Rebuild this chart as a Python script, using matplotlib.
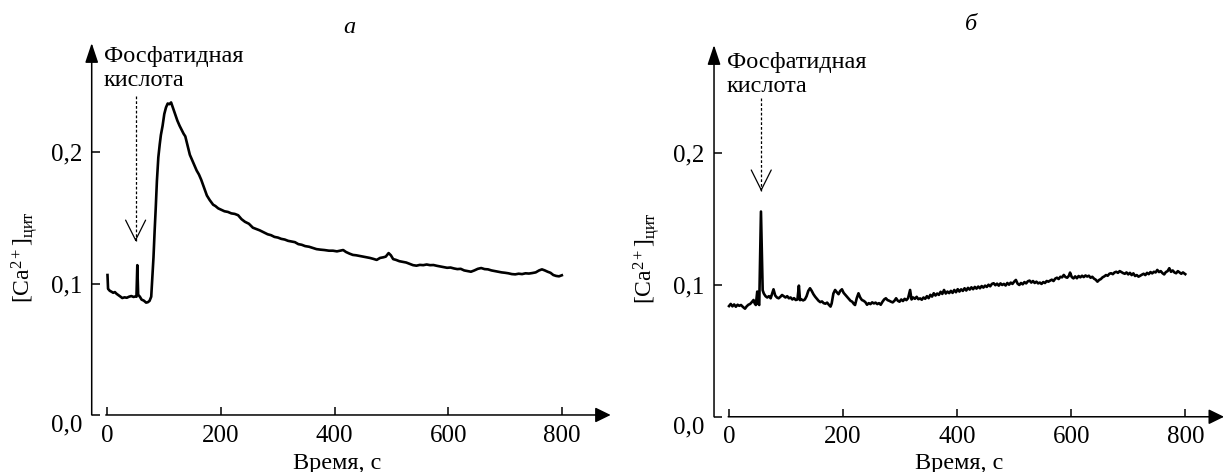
import matplotlib
matplotlib.use('Agg')
import matplotlib.pyplot as plt
import matplotlib.transforms as mtransforms

plt.rcParams['font.family'] = ['Liberation Serif', 'DejaVu Serif']
plt.rcParams['mathtext.fontset'] = 'custom'
plt.rcParams['mathtext.rm'] = 'Liberation Serif'
plt.rcParams['mathtext.it'] = 'Liberation Serif:italic'

# panel a: cytosolic Ca2+ after phosphatidic acid
time_a = [0, 1, 4, 7, 10, 13, 16, 20, 23, 26, 30, 34, 38, 42, 46, 49, 51, 52.5, 54, 57,
          60, 64, 68, 71, 74, 77, 79, 81, 83, 85, 87, 89.5, 92, 94, 97, 100, 103, 106, 109, 112,
          115, 119, 123, 127, 131, 134, 137, 141, 145, 149, 153, 157, 161, 165, 170, 175, 180, 186, 190, 195,
          201, 206, 212, 218, 224, 230, 236, 242, 249, 256, 262, 268, 275, 282, 288, 294, 300, 306, 312, 318,
          324, 330, 336, 342, 348, 355, 362, 368, 375, 382, 390, 397, 404, 410, 415, 420, 426, 432, 438, 444,
          450, 456, 462, 468, 474, 480, 486, 490, 495, 499, 503, 508, 514, 520, 526, 532, 538, 544, 550, 556,
          562, 568, 574, 580, 586, 592, 598, 604, 610, 616, 622, 628, 634, 640, 646, 652, 658, 664, 670, 676,
          682, 688, 694, 700, 706, 712, 718, 724, 730, 736, 742, 748, 754, 760, 765, 770, 775, 780, 785, 790,
          795, 800]
ca_a = [0.1065, 0.0960, 0.0945, 0.0938, 0.0930, 0.0935, 0.0922, 0.0910, 0.0900, 0.0890,
        0.0895, 0.0892, 0.0900, 0.0905, 0.0898, 0.0902, 0.0900, 0.1140, 0.0915, 0.0900,
        0.0878, 0.0870, 0.0855, 0.0858, 0.0868, 0.0900, 0.1050, 0.1200, 0.1400, 0.1580,
        0.1780, 0.1960, 0.2060, 0.2130, 0.2200, 0.2290, 0.2340, 0.2370, 0.2365, 0.2378,
        0.2340, 0.2290, 0.2240, 0.2200, 0.2165, 0.2140, 0.2120, 0.2050, 0.1980, 0.1940,
        0.1900, 0.1860, 0.1830, 0.1790, 0.1730, 0.1670, 0.1635, 0.1600, 0.1590, 0.1572,
        0.1560, 0.1550, 0.1545, 0.1534, 0.1530, 0.1520, 0.1490, 0.1470, 0.1455, 0.1425,
        0.1415, 0.1405, 0.1390, 0.1375, 0.1368, 0.1355, 0.1350, 0.1340, 0.1335, 0.1325,
        0.1320, 0.1315, 0.1300, 0.1295, 0.1285, 0.1280, 0.1270, 0.1262, 0.1258, 0.1255,
        0.1250, 0.1250, 0.1245, 0.1250, 0.1255, 0.1240, 0.1228, 0.1218, 0.1215, 0.1210,
        0.1205, 0.1200, 0.1195, 0.1188, 0.1180, 0.1195, 0.1200, 0.1205, 0.1232, 0.1215,
        0.1186, 0.1180, 0.1170, 0.1165, 0.1160, 0.1150, 0.1140, 0.1136, 0.1142, 0.1140,
        0.1145, 0.1140, 0.1141, 0.1135, 0.1130, 0.1125, 0.1120, 0.1122, 0.1115, 0.1110,
        0.1112, 0.1100, 0.1095, 0.1090, 0.1100, 0.1112, 0.1118, 0.1110, 0.1108, 0.1100,
        0.1095, 0.1090, 0.1085, 0.1082, 0.1078, 0.1072, 0.1070, 0.1075, 0.1072, 0.1078,
        0.1076, 0.1080, 0.1085, 0.1100, 0.1108, 0.1100, 0.1090, 0.1082, 0.1065, 0.1058,
        0.1055, 0.1063]

# panel b
time_b = [0, 3, 6, 9, 12, 15, 18, 21, 24, 28, 31, 34, 37, 40, 43, 45, 47, 49.5, 51, 53,
          56, 59, 61, 64, 67, 70, 73, 76, 78, 81, 84, 87, 90, 93, 96, 99, 102, 105, 108, 111,
          114, 117, 120, 122.5, 124.5, 127, 130, 133, 136, 139, 142, 145, 148, 151, 154, 157, 160, 163, 166, 169,
          172, 175, 178, 180, 183, 186, 189, 192, 195, 198, 201, 204, 207, 210, 213, 216, 219, 221, 224, 227,
          230, 233, 236, 239, 242, 245, 248, 251, 254, 257, 260, 263, 266, 269, 272, 275, 278, 281, 284, 287,
          290, 293, 296, 299, 302, 305, 308, 311, 314, 317.5, 320, 323, 326, 329, 332, 335, 338, 341, 344, 347,
          350, 353, 356, 359, 362, 365, 368, 371, 374, 377, 380, 383, 386, 389, 392, 395, 398, 401, 404, 407,
          410, 413, 416, 419, 422, 425, 428, 431, 434, 437, 440, 443, 446, 449, 452, 455, 458, 461, 464, 467,
          470, 473, 476, 479, 482, 485, 488, 491, 494, 497, 500, 503, 506, 509, 512, 515, 518, 521, 524, 527,
          530, 533, 536, 539, 542, 545, 548, 551, 554, 557, 560, 563, 566, 569, 572, 575, 578, 581, 584, 587,
          590, 593, 596, 598, 601, 604, 607, 610, 613, 616, 619, 622, 625, 628, 631, 634, 637, 640, 643, 646,
          649, 652, 655, 658, 661, 664, 667, 670, 673, 676, 679, 682, 685, 688, 691, 694, 697, 700, 703, 706,
          709, 712, 715, 718, 721, 724, 727, 730, 733, 736, 739, 742, 745, 748, 751, 754, 757, 760, 763, 766,
          769, 772, 775, 778, 781, 784, 787, 790, 793, 796, 800]
ca_b = [0.0840, 0.0856, 0.0838, 0.0852, 0.0835, 0.0850, 0.0842, 0.0848, 0.0835, 0.0820,
        0.0838, 0.0850, 0.0856, 0.0870, 0.0886, 0.0860, 0.0848, 0.0950, 0.0860, 0.0848,
        0.1557, 0.0960, 0.0935, 0.0915, 0.0905, 0.0915, 0.0899, 0.0940, 0.0967, 0.0920,
        0.0905, 0.0899, 0.0910, 0.0924, 0.0915, 0.0905, 0.0915, 0.0899, 0.0905, 0.0890,
        0.0900, 0.0886, 0.0890, 0.0995, 0.0885, 0.0890, 0.0883, 0.0890, 0.0915, 0.0955,
        0.0975, 0.0955, 0.0930, 0.0911, 0.0895, 0.0880, 0.0870, 0.0875, 0.0862, 0.0858,
        0.0866, 0.0850, 0.0836, 0.0860, 0.0935, 0.0962, 0.0945, 0.0930, 0.0955, 0.0967,
        0.0940, 0.0925, 0.0911, 0.0895, 0.0880, 0.0873, 0.0855, 0.0848, 0.0900, 0.0937,
        0.0905, 0.0886, 0.0880, 0.0870, 0.0850, 0.0862, 0.0855, 0.0868, 0.0860, 0.0866,
        0.0855, 0.0862, 0.0850, 0.0872, 0.0890, 0.0899, 0.0885, 0.0880, 0.0873, 0.0868,
        0.0880, 0.0899, 0.0880, 0.0873, 0.0890, 0.0878, 0.0895, 0.0885, 0.0900, 0.0962,
        0.0890, 0.0905, 0.0895, 0.0910, 0.0892, 0.0898, 0.0888, 0.0905, 0.0895, 0.0915,
        0.0900, 0.0925, 0.0912, 0.0937, 0.0920, 0.0935, 0.0925, 0.0948, 0.0932, 0.0962,
        0.0935, 0.0950, 0.0938, 0.0955, 0.0940, 0.0962, 0.0945, 0.0968, 0.0950, 0.0967,
        0.0955, 0.0975, 0.0958, 0.0978, 0.0965, 0.0982, 0.0968, 0.0985, 0.0972, 0.0988,
        0.0975, 0.0992, 0.0980, 0.0995, 0.0985, 0.1002, 0.0990, 0.1008, 0.1013, 0.0998,
        0.1010, 0.0995, 0.1012, 0.1000, 0.1008, 0.0996, 0.1015, 0.1002, 0.1018, 0.1008,
        0.1025, 0.1038, 0.1010, 0.1000, 0.1015, 0.1005, 0.1022, 0.1012, 0.1028, 0.1033,
        0.1018, 0.1030, 0.1015, 0.1025, 0.1012, 0.1018, 0.1008, 0.1022, 0.1015, 0.1030,
        0.1025, 0.1033, 0.1040, 0.1030, 0.1048, 0.1055, 0.1045, 0.1062, 0.1058, 0.1076,
        0.1060, 0.1055, 0.1070, 0.1094, 0.1060, 0.1050, 0.1065, 0.1051, 0.1068, 0.1058,
        0.1070, 0.1060, 0.1072, 0.1064, 0.1070, 0.1055, 0.1062, 0.1048, 0.1040, 0.1025,
        0.1038, 0.1045, 0.1058, 0.1065, 0.1075, 0.1070, 0.1085, 0.1089, 0.1082, 0.1095,
        0.1100, 0.1092, 0.1105, 0.1098, 0.1090, 0.1085, 0.1095, 0.1080, 0.1092, 0.1075,
        0.1088, 0.1068, 0.1075, 0.1063, 0.1070, 0.1078, 0.1085, 0.1075, 0.1092, 0.1082,
        0.1098, 0.1088, 0.1100, 0.1095, 0.1114, 0.1098, 0.1105, 0.1090, 0.1080, 0.1098,
        0.1105, 0.1127, 0.1100, 0.1110, 0.1095, 0.1089, 0.1105, 0.1095, 0.1085, 0.1095,
        0.1082]

x_ticks = [0, 200, 400, 600, 800]
x_labels = ['0', '200', '400', '600', '800']
y_ticks = [0.0, 0.1, 0.2]
y_labels = ['0,0', '0,1', '0,2']
note = 'Фосфатидная\nкислота'
ylabel = r'$[\mathrm{Ca}^{2+}]_{\mathrm{цит}}$'
xlabel = 'Время, с'

fig = plt.figure(figsize=(12.26, 4.72), dpi=100)

panels = [
    dict(rect=[0.0748, 0.1208, 0.4233, 0.788], xlim=(-27.8, 886), ytop=0.283, xstart=-3,
         t=time_a, v=ca_a, add=49.5, atop=0.243, atip=0.132, note=(-7, 0.2635),
         title='а', title_y=0.295, ylab=(0.0196, 0.4555), xlab=0.275),
    dict(rect=[0.5824, 0.117, 0.416, 0.7875], xlim=(-26.3, 868), ytop=0.282, xstart=-1.5,
         t=time_b, v=ca_b, add=56.5, atop=0.242, atip=0.171, note=(-4, 0.2598),
         title='б', title_y=0.2974, ylab=(0.5277, 0.4534), xlab=0.782),
]

for p in panels:
    ax = fig.add_axes(p['rect'])
    ax.plot(p['t'], p['v'], color='black', lw=1.9, solid_joinstyle='round')
    ax.set_xlim(*p['xlim'])
    ax.set_ylim(0, p['ytop'])
    for s in ax.spines.values():
        s.set_visible(False)
    ax.set_xticks(x_ticks)
    ax.set_xticklabels(x_labels)
    ax.set_yticks(y_ticks)
    ax.set_yticklabels(y_labels)
    ax.tick_params(direction='in', length=5.8, width=1.1, labelsize=18, pad=7, colors='black')
    # the 0,0 label sits a little lower in the original
    lbl = ax.yaxis.get_major_ticks()[0].label1
    lbl.set_transform(lbl.get_transform() + mtransforms.ScaledTranslation(0, -0.08, fig.dpi_scale_trans))

    x0 = p['xlim'][0]
    # y axis with arrow
    ax.annotate('', xy=(x0, p['ytop']), xytext=(x0, 0), annotation_clip=False,
                arrowprops=dict(arrowstyle='-|>,head_length=0.6,head_width=0.2', color='black',
                                lw=1.1, shrinkA=0, shrinkB=0, mutation_scale=20))
    # x axis with arrow
    ax.annotate('', xy=(p['xlim'][1], 0), xytext=(p['xstart'], 0), annotation_clip=False,
                arrowprops=dict(arrowstyle='-|>,head_length=0.47,head_width=0.23', color='black',
                                lw=1.1, shrinkA=0, shrinkB=0, mutation_scale=20))

    # addition marker: dashed line + open head
    ax.plot([p['add'], p['add']], [p['atop'], p['atip']], color='black', lw=0.9,
            linestyle=(0, (2.2, 1.6)), clip_on=False)
    ax.annotate('', xy=(p['add'], p['atip']), xytext=(p['add'], p['atip'] + 0.002),
                annotation_clip=False,
                arrowprops=dict(arrowstyle='->,head_length=0.72,head_width=0.36', color='black',
                                lw=0.9, shrinkA=0, shrinkB=0, mutation_scale=20))
    ax.text(p['note'][0], p['note'][1], note, ha='left', va='center', fontsize=17.5,
            linespacing=1.2, clip_on=False)

    ax.text(425, p['title_y'], p['title'], ha='center', va='center', fontsize=17.5,
            style='italic', clip_on=False)
    fig.text(p['ylab'][0], p['ylab'][1], ylabel, rotation=90, ha='center', va='center', fontsize=17)
    fig.text(p['xlab'], 0.019, xlabel, ha='center', va='center', fontsize=17.5)

fig.savefig('out.png', dpi=100)
